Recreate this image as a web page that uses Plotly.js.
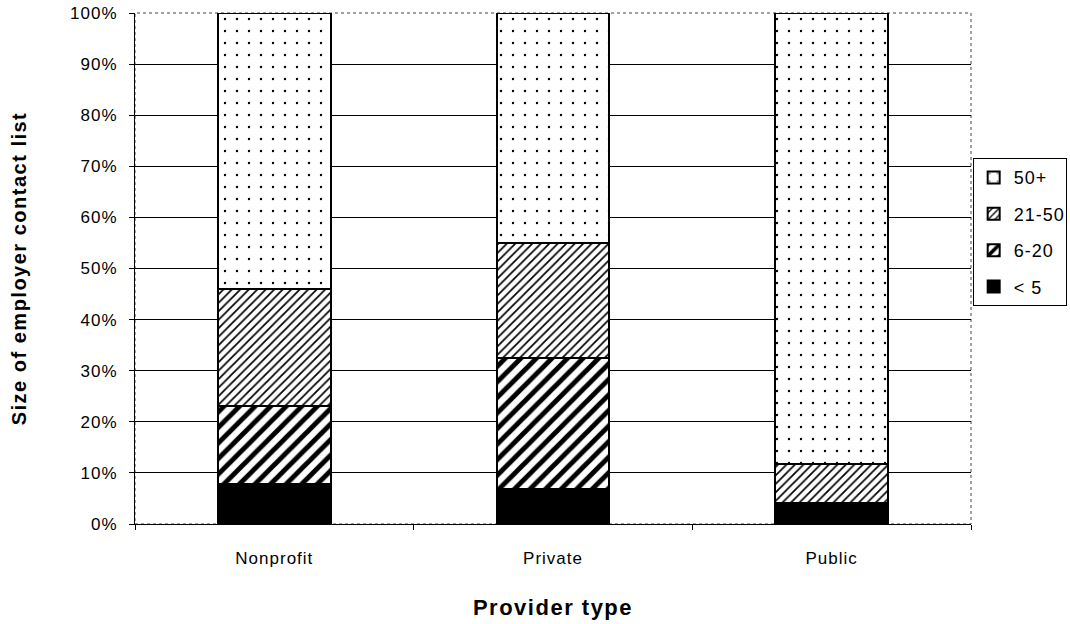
<!DOCTYPE html>
<html>
<head>
<meta charset="utf-8">
<script src="https://cdn.plot.ly/plotly-3.0.1.min.js"></script>
<style>
html,body{margin:0;padding:0;background:#fff;}
#chart{width:1070px;height:624px;}
#chart .xtick text, #chart .ytick text, #chart .legendtext {letter-spacing:1px;}
#chart .g-xtitle text, #chart .g-ytitle text {letter-spacing:1.5px;}
</style>
</head>
<body>
<div id="chart"></div>
<script>
const categories = ["Nonprofit", "Private", "Public"];
const seriesNames = ["< 5", "6-20", "21-50", "50+"];
const lt5 = [7.8, 6.8, 4.2];
const s6to20 = [15.3, 25.7, 0];
const s21to50 = [22.9, 22.5, 7.5];
const s50plus = [54.0, 45.0, 88.3];
const yTickVals = [0, 10, 20, 30, 40, 50, 60, 70, 80, 90, 100];
const yTickText = ["0%", "10%", "20%", "30%", "40%", "50%", "60%", "70%", "80%", "90%", "100%"];

const values = [lt5, s6to20, s21to50, s50plus];
const patterns = [
  {shape: "", fillmode: "overlay"},
  {shape: "/", size: 11, solidity: 0.45, fgcolor: "#000", bgcolor: "#fff", fillmode: "replace"},
  {shape: "/", size: 6, solidity: 0.28, fgcolor: "#000", bgcolor: "#fff", fillmode: "replace"},
  {shape: ".", size: 12, solidity: 0.03, fgcolor: "#000", bgcolor: "#fff", fillmode: "replace"}
];
const colors = ["#000", "#fff", "#fff", "#fff"];

const traces = seriesNames.map((name, i) => ({
  type: "bar",
  name: name,
  legendgroup: "g" + i,
  legendrank: 10 - i,
  x: categories,
  y: values[i],
  marker: {
    color: colors[i],
    line: {color: "#000", width: 2},
    pattern: patterns[i]
  },
  hoverinfo: "skip"
}));

const layout = {
  width: 1070,
  height: 624,
  barmode: "stack",
  bargap: 0.595,
  paper_bgcolor: "#fff",
  plot_bgcolor: "#fff",
  margin: {l: 135, r: 99, t: 13, b: 100, autoexpand: false},
  font: {family: "Liberation Sans, Arial, sans-serif", color: "#000", size: 17},
  xaxis: {
    showline: true, linecolor: "#000", linewidth: 1, mirror: false,
    ticks: "outside", ticklen: 5, tickcolor: "#000", tickson: "boundaries",
    tickfont: {size: 17},
    ticklabelstandoff: 19,
    title: {text: "<b>Provider type</b>", font: {size: 22}, standoff: 32}
  },
  yaxis: {
    range: [0, 100],
    tickvals: yTickVals, ticktext: yTickText,
    showline: true, linecolor: "#000", linewidth: 1, mirror: false,
    showgrid: true, gridcolor: "#000", gridwidth: 1,
    ticks: "outside", ticklen: 5, tickcolor: "#000",
    tickfont: {size: 17},
    ticklabelstandoff: 8,
    title: {text: "<b>Size of employer contact list</b>", font: {size: 20}, standoff: 42}
  },
  shapes: [{
    type: "rect", xref: "paper", yref: "paper", x0: 0, x1: 1, y0: 0, y1: 1,
    line: {color: "#444", width: 1, dash: "dot"}, layer: "below"
  }],
  legend: {
    x: 1.002, xanchor: "left", y: 0.571, yanchor: "middle",
    traceorder: "grouped",
    tracegroupgap: 10,
    bordercolor: "#000", borderwidth: 1,
    font: {size: 18},
    itemwidth: 30
  },
  showlegend: true
};

Plotly.newPlot("chart", traces, layout, {displayModeBar: false, staticPlot: true});
</script>
</body>
</html>
